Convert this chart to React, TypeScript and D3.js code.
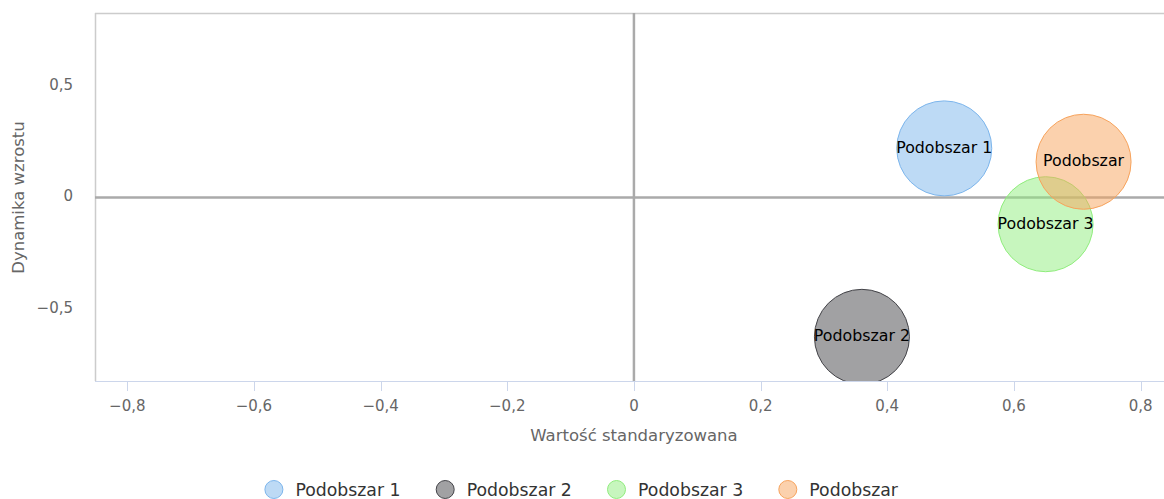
import React from "react";
import * as d3 from "d3";

const seriesNames = ["Podobszar 1", "Podobszar 2", "Podobszar 3", "Podobszar"];
const xValues = [0.49, 0.36, 0.65, 0.71];
const yValues = [0.22, -0.625, -0.12, 0.16];
const zValues = [1, 1, 1, 1];
const colors = ["#7cb5ec", "#434348", "#90ed7d", "#f7a35c"];
const xTicks = [-0.8, -0.6, -0.4, -0.2, 0, 0.2, 0.4, 0.6, 0.8];
const yTicks = [-0.5, 0, 0.5];
const xTitle = "Wartość standaryzowana";
const yTitle = "Dynamika wzrostu";

const W = 1164;
const H = 499;
const plot = { left: 95, top: 13, right: 1164, bottom: 381 };
const FONT = "'DejaVu Sans', sans-serif";

const fmt = (v: number) => {
  if (v === 0) return "0";
  const s = Math.abs(v).toString().replace(".", ",");
  return (v < 0 ? "\u2212" : "") + s;
};

export default function App() {
  const x = d3.scaleLinear().domain([-0.851, 0.837]).range([plot.left, plot.right]);
  const y = d3.scaleLinear().domain([-0.823, 0.827]).range([plot.bottom, plot.top]);
  const r = d3.scaleSqrt().domain([0, d3.max(zValues) as number]).range([0, 47.5]);
  const x0 = x(0);
  const y0 = y(0);

  const legendStart = 273.9;
  const legendStep = 171.3;
  const legendY = 489.5;

  return (
    <svg
      width={W}
      height={H}
      style={{ position: "absolute", left: 0, top: 0, background: "#fff" }}
      fontFamily={FONT}
    >
      <defs>
        <clipPath id="plotClip">
          <rect x={plot.left} y={plot.top} width={plot.right - plot.left} height={plot.bottom - plot.top} />
        </clipPath>
      </defs>
      {/* plot border */}
      <line x1={plot.left} x2={plot.right} y1={plot.top + 0.5} y2={plot.top + 0.5} stroke="#cccccc" strokeWidth={1.5} />
      <line x1={plot.left + 0.5} x2={plot.left + 0.5} y1={plot.top} y2={plot.bottom} stroke="#cccccc" strokeWidth={1.5} />
      {/* x axis line and ticks */}
      <line x1={plot.left} x2={plot.right} y1={plot.bottom + 0.5} y2={plot.bottom + 0.5} stroke="#ccd6eb" strokeWidth={1} />
      {xTicks.map((t) => (
        <g key={"xt" + t}>
          <line x1={Math.round(x(t)) + 0.5} x2={Math.round(x(t)) + 0.5} y1={plot.bottom} y2={plot.bottom + 10} stroke="#ccd6eb" strokeWidth={1} />
          <text x={x(t)} y={411} textAnchor="middle" fontSize={15} fill="#666666">
            {fmt(t)}
          </text>
        </g>
      ))}
      {yTicks.map((t) => (
        <text key={"yt" + t} x={73} y={y(t) + 4} textAnchor="end" fontSize={15} fill="#666666">
          {fmt(t)}
        </text>
      ))}
      {/* zero lines */}
      <line x1={x0} x2={x0} y1={plot.top} y2={plot.bottom} stroke="#aaaaaa" strokeWidth={2.5} />
      <line x1={plot.left} x2={plot.right} y1={y0} y2={y0} stroke="#aaaaaa" strokeWidth={2.5} />
      {/* titles */}
      <text x={634} y={441} textAnchor="middle" fontSize={16.5} fill="#666666">
        {xTitle}
      </text>
      <text transform={`translate(24,197.5) rotate(-90)`} textAnchor="middle" fontSize={16.5} fill="#666666">
        {yTitle}
      </text>
      {/* bubbles */}
      <g clipPath="url(#plotClip)">
        {seriesNames.map((n, i) => (
          <circle
            key={"b" + i}
            cx={x(xValues[i])}
            cy={y(yValues[i])}
            r={r(zValues[i])}
            fill={colors[i]}
            fillOpacity={0.5}
            stroke={colors[i]}
            strokeWidth={1}
          />
        ))}
      </g>
      {seriesNames.map((n, i) => (
        <text
          key={"l" + i}
          x={x(xValues[i])}
          y={y(yValues[i]) + 4.5}
          textAnchor="middle"
          fontSize={15.8}
          fill="#000000"
        >
          {n}
        </text>
      ))}
      {/* legend */}
      {seriesNames.map((n, i) => {
        const cx = legendStart + i * legendStep;
        return (
          <g key={"lg" + i}>
            <circle cx={cx} cy={legendY} r={9} fill={colors[i]} fillOpacity={0.5} stroke={colors[i]} strokeWidth={1} />
            <text x={cx + 21.5} y={legendY + 6.5} fontSize={17.3} fill="#333333">
              {n}
            </text>
          </g>
        );
      })}
    </svg>
  );
}
